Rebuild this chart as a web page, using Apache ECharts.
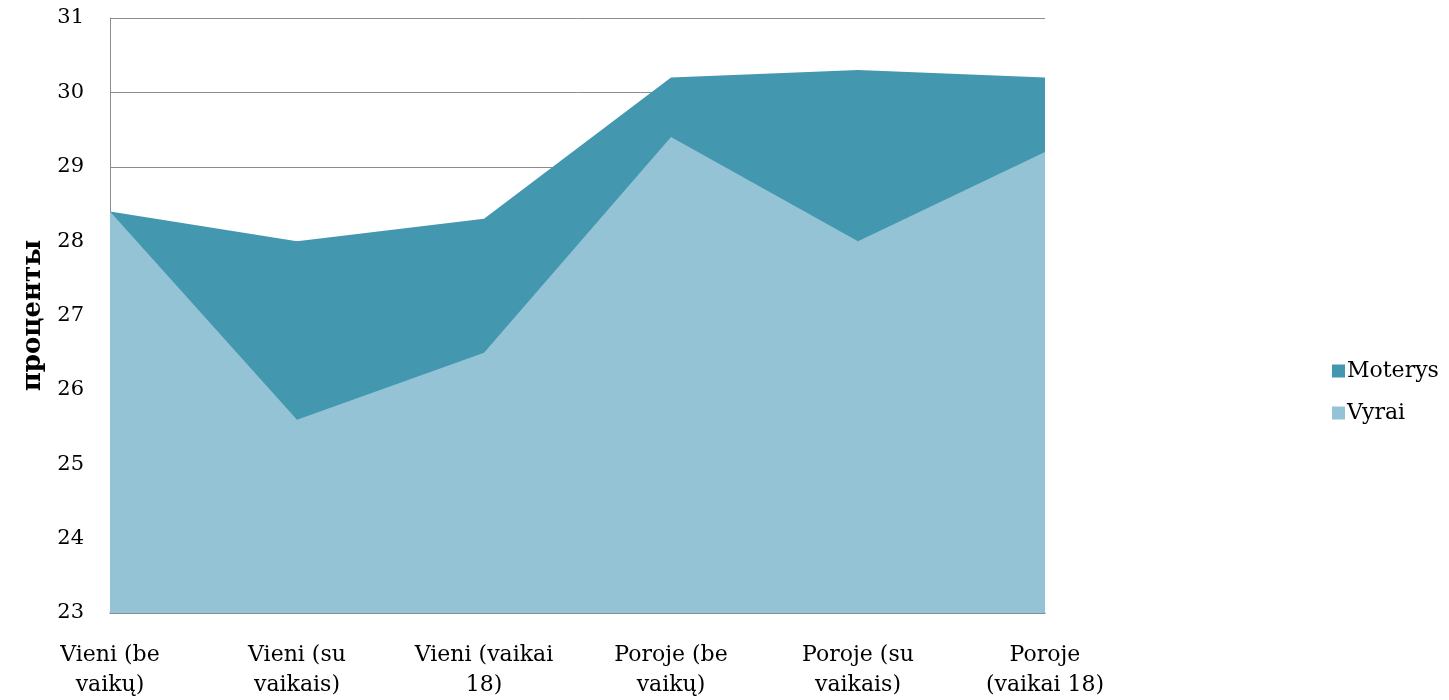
<!DOCTYPE html>
<html><head><meta charset="utf-8">
<script src="https://cdn.jsdelivr.net/npm/echarts@6/dist/echarts.min.js"></script>
<style>html,body{margin:0;padding:0;background:#fff}#c{width:1449px;height:700px}</style>
</head><body><div id="c"></div>
<script>
const categories = ['Vieni (be\nvaikų)', 'Vieni (su\nvaikais)', 'Vieni (vaikai\n18)', 'Poroje (be\nvaikų)', 'Poroje (su\nvaikais)', 'Poroje\n(vaikai 18)'];
const moterys = [28.4, 28.0, 28.3, 30.2, 30.3, 30.2];
const vyrai = [28.4, 25.6, 26.5, 29.4, 28.0, 29.2];
const yTicks = {min: 23, max: 31, interval: 1};

const font = 'DejaVu Serif';
const chart = echarts.init(document.getElementById('c'));
chart.setOption({
  animation: false,
  textStyle: {fontFamily: font},
  grid: {left: 110, right: 404, top: 18, bottom: 87, containLabel: false},
  legend: {
    orient: 'vertical', left: 1327, top: 355, itemGap: 20,
    itemWidth: 13, itemHeight: 13, icon: 'rect',
    textStyle: {fontFamily: font, fontSize: 22, color: '#000', padding: [0,0,0,-3]},
    data: ['Moterys', 'Vyrai']
  },
  xAxis: {
    type: 'category', data: categories, boundaryGap: false,
    axisLine: {lineStyle: {color: '#8c8c8c', width: 1.5}},
    axisTick: {show: false},
    axisLabel: {fontFamily: font, fontSize: 22, color: '#000', lineHeight: 30, margin: 27, interval: 0}
  },
  yAxis: {
    type: 'value', min: yTicks.min, max: yTicks.max, interval: yTicks.interval,
    name: 'проценты', nameLocation: 'middle', nameGap: 61,
    nameTextStyle: {fontFamily: font, fontSize: 26, fontWeight: 'bold', color: '#000'},
    axisLine: {show: true, lineStyle: {color: '#8c8c8c', width: 1}},
    axisTick: {show: false},
    splitLine: {lineStyle: {color: '#8c8c8c', width: 1}},
    axisLabel: {fontFamily: font, fontSize: 21, color: '#000', margin: 26, padding: [6,0,0,0]}
  },
  series: [
    {name: 'Moterys', type: 'line', data: moterys, symbol: 'none',
     lineStyle: {width: 0}, itemStyle: {color: '#4398AF'},
     areaStyle: {color: '#4398AF', opacity: 1, origin: 'start'}, z: 2},
    {name: 'Vyrai', type: 'line', data: vyrai, symbol: 'none',
     lineStyle: {width: 0}, itemStyle: {color: '#93C3D4'},
     areaStyle: {color: '#93C3D4', opacity: 1, origin: 'start'}, z: 3}
  ]
});
</script></body></html>
